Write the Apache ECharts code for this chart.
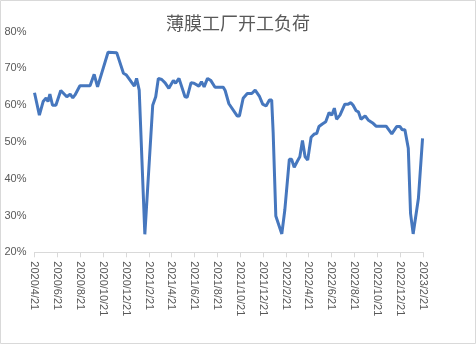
<!DOCTYPE html>
<html><head><meta charset="utf-8">
<script src="https://cdn.jsdelivr.net/npm/echarts@6/dist/echarts.min.js"></script>
<style>html,body{margin:0;padding:0;background:#fff}#c{width:476px;height:344px}</style>
</head><body><div id="c"></div>
<script>
const titleText = '薄膜工厂开工负荷';
const tickLabels = ['2020/4/21','2020/6/21','2020/8/21','2020/10/21','2020/12/21','2021/2/21','2021/4/21','2021/6/21','2021/8/21','2021/10/21','2021/12/21','2022/2/21','2022/4/21','2022/6/21','2022/8/21','2022/10/21','2022/12/21','2023/2/21'];
const dates = ['2020/4/21','2020/5/4','2020/5/14','2020/5/22','2020/5/27','2020/6/1','2020/6/8','2020/6/17','2020/6/30','2020/7/16','2020/7/25','2020/8/1','2020/8/7','2020/8/20','2020/9/16','2020/9/27','2020/10/6','2020/11/3','2020/11/26','2020/12/14','2020/12/22','2021/1/12','2021/1/18','2021/1/25','2021/2/9','2021/3/2','2021/3/10','2021/3/17','2021/3/26','2021/4/4','2021/4/14','2021/4/26','2021/5/2','2021/5/11','2021/5/16','2021/5/27','2021/6/2','2021/6/12','2021/6/20','2021/6/24','2021/7/3','2021/7/10','2021/7/17','2021/7/26','2021/8/4','2021/8/15','2021/9/6','2021/9/11','2021/9/21','2021/10/13','2021/10/19','2021/10/29','2021/11/9','2021/11/21','2021/11/30','2021/12/11','2021/12/20','2021/12/29','2022/1/7','2022/1/13','2022/1/17','2022/1/24','2022/2/9','2022/2/17','2022/3/1','2022/3/7','2022/3/14','2022/3/23','2022/3/29','2022/4/5','2022/4/12','2022/4/19','2022/4/28','2022/5/7','2022/5/13','2022/5/19','2022/5/28','2022/6/6','2022/6/15','2022/6/22','2022/6/29','2022/7/5','2022/7/14','2022/7/27','2022/8/5','2022/8/12','2022/8/18','2022/8/26','2022/9/1','2022/9/8','2022/9/13','2022/9/19','2022/9/27','2022/10/9','2022/10/18','2022/11/14','2022/11/29','2022/12/12','2022/12/21','2022/12/27','2023/1/3','2023/1/12','2023/1/18','2023/1/25','2023/2/8','2023/2/19'];
const loadPct = [63.4,57.3,61,62,61,63,60,60,64,62.3,63,62,62.8,65.3,65.3,68.4,65,74.4,74.3,68.7,68.2,65.2,67.3,64.1,24.9,60,62.3,67.3,67,66.1,64.6,66.7,66,67.3,67.3,62.3,62.2,66.1,66,66.4,65.2,66.4,65,67.3,66.7,64.9,64.9,64,60.4,57.1,57.1,61.9,63.2,63.2,64.1,62.5,60.3,59.8,61.4,61.4,52.4,29.9,25,31.5,45.3,45.3,43.1,44.9,46,50.4,46,45.1,51.3,52.2,52.3,54.2,54.9,55.5,58,57.3,59.2,56.2,57.3,60.3,60.3,60.7,60,58.5,58.2,56.2,56.2,57.1,56,55.2,54.3,54.3,52.2,54.2,54.2,53.3,53.3,48.3,30.6,25,34.7,51];

function toTs(s){const p=s.split('/').map(Number);return Date.UTC(p[0],p[1]-1,p[2]);}
function fmt(v){const d=new Date(v);return d.getUTCFullYear()+'/'+(d.getUTCMonth()+1)+'/'+d.getUTCDate();}
const tickTs = tickLabels.map(toTs);
const seriesData = dates.map((d,i)=>[toTs(d), loadPct[i]]);

const chart = echarts.init(document.getElementById('c'));
chart.setOption({
  animation:false,
  title:{text:titleText,left:'center',top:9,textStyle:{fontSize:18,fontWeight:'normal',color:'#595959',fontFamily:'Noto Sans CJK SC'}},
  grid:{left:34.5,right:52.7,top:31.7,bottom:91.7,containLabel:false},
  xAxis:{type:'value',min:tickTs[0],max:tickTs[tickTs.length-1],scale:true,
    axisLine:{lineStyle:{color:'#d9d9d9',width:1}},
    axisTick:{show:true,customValues:tickTs,length:5,lineStyle:{color:'#d9d9d9'}},
    axisLabel:{customValues:tickTs,formatter:fmt,rotate:-90,margin:9,fontSize:11,color:'#595959',fontFamily:'Liberation Sans',hideOverlap:false},
    splitLine:{show:false},minorTick:{show:false}},
  yAxis:{type:'value',min:20,max:80,interval:10,
    axisLine:{show:false},axisTick:{show:false},splitLine:{show:false},
    axisLabel:{formatter:'{value}%',fontSize:11,color:'#595959',margin:8,fontFamily:'Liberation Sans'}},
  graphic:[{type:'rect',shape:{x:0.5,y:0.5,width:475,height:343},style:{fill:null,stroke:'#d9d9d9',lineWidth:1},silent:true}],
  series:[{type:'line',data:seriesData,showSymbol:false,symbol:'none',lineStyle:{color:'#4677BE',width:3},itemStyle:{color:'#4677BE'}}]
});
</script></body></html>
